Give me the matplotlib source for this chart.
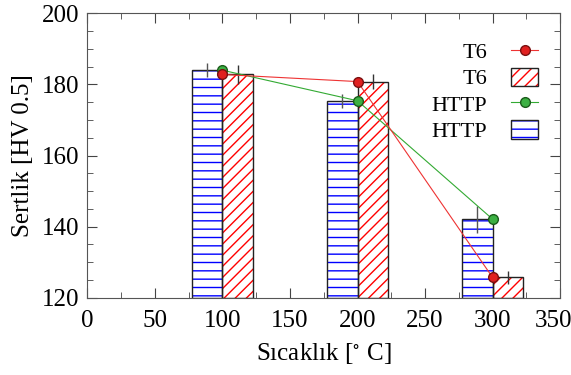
import matplotlib
matplotlib.use("Agg")
import matplotlib.pyplot as plt
from matplotlib.patches import Patch
from matplotlib.lines import Line2D
from matplotlib.legend_handler import HandlerTuple
from matplotlib.ticker import MultipleLocator
from matplotlib.transforms import ScaledTranslation

plt.rcParams['font.family'] = ['Liberation Serif', 'DejaVu Serif']
plt.rcParams['mathtext.fontset'] = 'stix'
plt.rcParams['hatch.linewidth'] = 1.0

# veriler
sicaklik = [100, 200, 300]
http_sertlik = [184.0, 175.4, 142.1]
t6_sertlik = [182.8, 180.8, 125.7]
http_hata = [2.0, 2.0, 3.8]
t6_hata = [2.8, 2.0, 1.8]

bar_w = 22.5
x_http = [t - bar_w / 2 for t in sicaklik]
x_t6 = [t + bar_w / 2 for t in sicaklik]
taban = 120
h_http = [v - taban for v in http_sertlik]
h_t6 = [v - taban for v in t6_sertlik]

fig = plt.figure(figsize=(5.71, 3.75), dpi=100)
ax = fig.add_axes([0.153, 0.206, 0.828, 0.7585])

# HTTP cubuklari (mavi yatay tarama)
ax.bar(x_http, h_http, bar_w, bottom=taban, facecolor='white', edgecolor='blue',
       hatch='--', linewidth=0, zorder=2)
ax.bar(x_http, h_http, bar_w, bottom=taban, fill=False, edgecolor='#222222',
       linewidth=1.0, zorder=3)
# T6 cubuklari (kirmizi capraz tarama)
ax.bar(x_t6, h_t6, bar_w, bottom=taban, facecolor='white', edgecolor='red',
       hatch='///', linewidth=0, zorder=2)
ax.bar(x_t6, h_t6, bar_w, bottom=taban, fill=False, edgecolor='#222222',
       linewidth=1.0, zorder=3)

# hata cubuklari
ax.errorbar(x_http, http_sertlik, yerr=http_hata, fmt='none', ecolor='#555555',
            elinewidth=1.0, capsize=0, zorder=4)
ax.errorbar(x_t6, t6_sertlik, yerr=t6_hata, fmt='none', ecolor='#333333',
            elinewidth=1.0, capsize=0, zorder=4)

# cizgiler
ax.plot(sicaklik, http_sertlik, '-o', color='#33aa33', lw=0.8,
        markerfacecolor='#3cb043', markeredgecolor='#1a5c1a', markersize=7, zorder=5)
ax.plot(sicaklik, t6_sertlik, '-o', color='#ee3333', lw=0.8,
        markerfacecolor='#e02020', markeredgecolor='#7a1010', markersize=7, zorder=6)

ax.set_xlim(0, 350)
ax.set_ylim(120, 200)
ax.xaxis.set_major_locator(MultipleLocator(50))
ax.xaxis.set_minor_locator(MultipleLocator(25))
ax.yaxis.set_major_locator(MultipleLocator(20))
ax.yaxis.set_minor_locator(MultipleLocator(5))
ax.tick_params(which='both', direction='in', top=True, right=True, labelsize=18,
               color='#444444')
ax.tick_params(which='major', length=7)
ax.tick_params(which='minor', length=4)
ax.tick_params(axis='x', which='major', pad=9)
ax.tick_params(axis='y', which='major', pad=5.5)
for s in ax.spines.values():
    s.set_color('#555555')

ax.set_xlabel('Sıcaklık [$^{\\circ}$ C]', fontsize=18, labelpad=6)
ax.set_ylabel('Sertlik [HV 0.5]', fontsize=18, labelpad=6)

h_t6_line = Line2D([], [], color='#ee3333', lw=0.8, marker='o', markerfacecolor='#e02020',
                   markeredgecolor='#7a1010', markersize=7)
h_t6_bar = (Patch(facecolor='white', edgecolor='red', hatch='///', linewidth=0),
            Patch(fill=False, edgecolor='#222222', linewidth=1.0))
h_http_line = Line2D([], [], color='#33aa33', lw=0.8, marker='o', markerfacecolor='#3cb043',
                     markeredgecolor='#1a5c1a', markersize=7)
h_http_bar = (Patch(facecolor='white', edgecolor='blue', hatch='--', linewidth=0),
              Patch(fill=False, edgecolor='#222222', linewidth=1.0))
leg = ax.legend([h_t6_line, h_t6_bar, h_http_line, h_http_bar], ['T6', 'T6', 'HTTP', 'HTTP'],
                handler_map={tuple: HandlerTuple(ndivide=1)},
                loc='upper right', bbox_to_anchor=(1.0, 0.98),
                frameon=False, markerfirst=False, fontsize=16,
                handlelength=1.2, handleheight=0.9, labelspacing=0.2,
                borderaxespad=0.6, handletextpad=1.1)

# legend satirlarini saga hizala
for sutun in leg._legend_handle_box.get_children():
    sutun.align = 'right'

# son x etiketi (350) kenara sigsin diye biraz sola
fig.canvas.draw()
for tick in ax.xaxis.get_major_ticks():
    if abs(tick.get_loc() - 350) < 1e-6:
        lbl = tick.label1
        lbl.set_transform(lbl.get_transform() + ScaledTranslation(-5 / 72, 0, fig.dpi_scale_trans))

fig.savefig('out.png', dpi=100)
